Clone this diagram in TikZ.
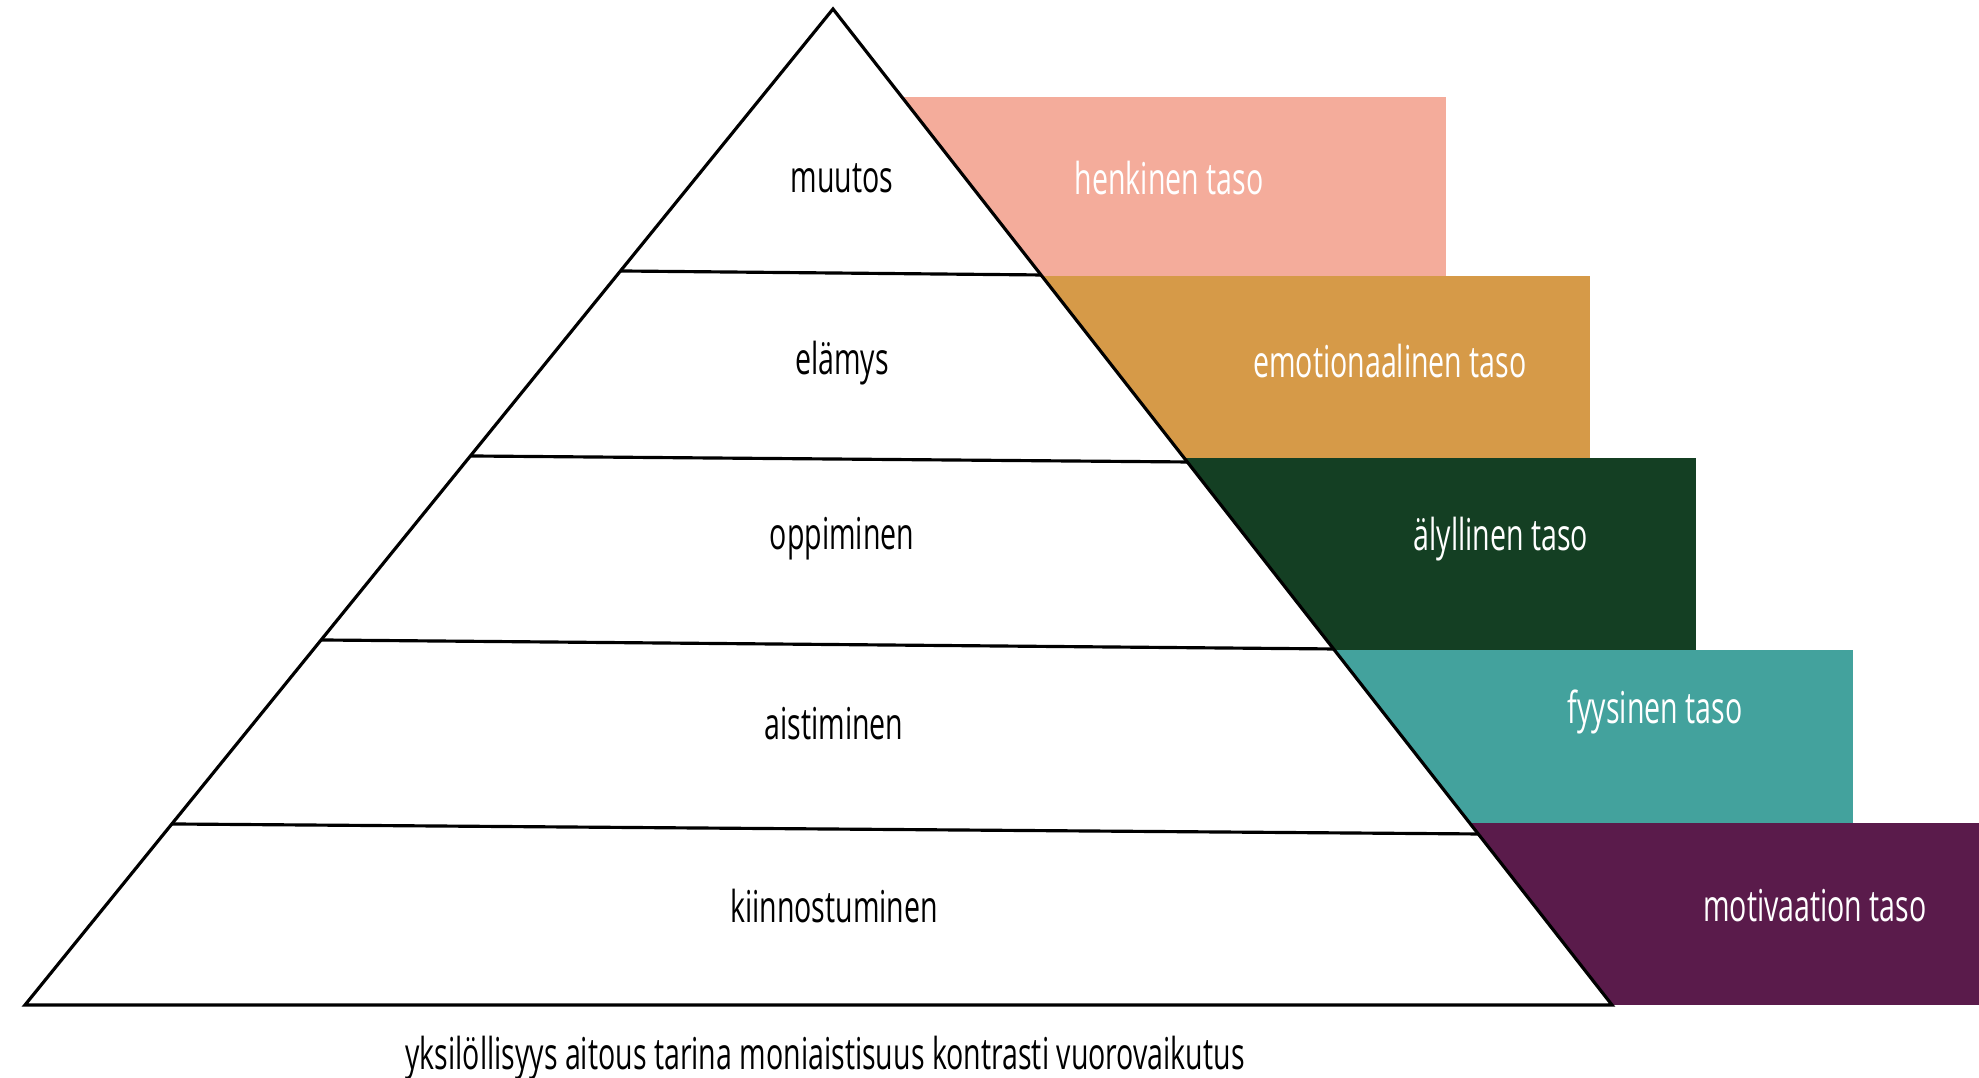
\documentclass[tikz,border=0pt]{standalone}
\usepackage{fontspec}
\setmainfont{Open Sans}[FakeStretch=0.65]
\usetikzlibrary{calc}
\definecolor{henkiC}{HTML}{F4AC9B}
\definecolor{emoC}{HTML}{D69A48}
\definecolor{alyC}{HTML}{143F23}
\definecolor{fyysC}{HTML}{43A29D}
\definecolor{motiC}{HTML}{5A1B4B}
\tikzset{
        level/.style={text=black, font=\fontsize{12.5}{14}\selectfont}, % text inside the pyramid
        taso/.style={text=white, font=\fontsize{12.5}{14}\selectfont}, % text on the coloured bands
        band/.style={draw=none}, % coloured bands behind the pyramid
    }
\tikzstyle{edge}=[line width=0.9pt, line join=miter]

\begin{document}
\begin{tikzpicture}
    \useasboundingbox (0,0) rectangle (19.79,10.78);
    % corners of the pyramid
    \coordinate (apex) at (8.33,10.69);
    \coordinate (bl) at (0.25,0.73);
    \coordinate (br) at (16.12,0.73);
    % coloured bands
    \fill[band, henkiC] (9.02,9.81) rectangle (14.46,8.02);
    \fill[band, emoC] (10.42,8.02) rectangle (15.90,6.20);
    \fill[band, alyC] (11.84,6.20) rectangle (16.96,4.28);
    \fill[band, fyysC] (13.34,4.28) rectangle (18.53,2.55);
    \fill[band, motiC] (14.70,2.55) rectangle (19.79,0.73);
    % pyramid
    \draw[edge, fill=white] (apex) -- (br) -- (bl) -- cycle;
    \coordinate (l1) at (6.205,8.07);  \coordinate (r1) at (10.41,8.03);
    \coordinate (l2) at (4.704,6.22);  \coordinate (r2) at (11.87,6.16);
    \coordinate (l3) at (3.211,4.38);  \coordinate (r3) at (13.335,4.29);
    \coordinate (l4) at (1.719,2.54);  \coordinate (r4) at (14.78,2.44);
    \draw[edge] (l1) -- (r1);
    \draw[edge] (l2) -- (r2);
    \draw[edge] (l3) -- (r3);
    \draw[edge] (l4) -- (r4);
    % levels
    \node[level] (muutos) at (8.42,9.00) {muutos};
    \node[level] (elamys) at (8.42,7.15) {elämys};
    \node[level] (oppiminen) at (8.42,5.39) {oppiminen};
    \node[level] (aistiminen) at (8.34,3.54) {aistiminen};
    \node[level] (kiinnostuminen) at (8.34,1.72) {kiinnostuminen};
    \node[taso] (henkinen) at (11.69,9.00) {henkinen taso};
    \node[taso] (emotionaalinen) at (13.90,7.17) {emotionaalinen taso};
    \node[taso] (alyllinen) at (15.01,5.39) {älyllinen taso};
    \node[taso] (fyysinen) at (16.55,3.66) {fyysinen taso};
    \node[taso] (motivaation) at (18.15,1.72) {motivaation taso};
    \node[level] (tekijat) at (8.25,0.20) {yksilöllisyys aitous tarina moniaistisuus kontrasti vuorovaikutus};
\end{tikzpicture}
\end{document}
